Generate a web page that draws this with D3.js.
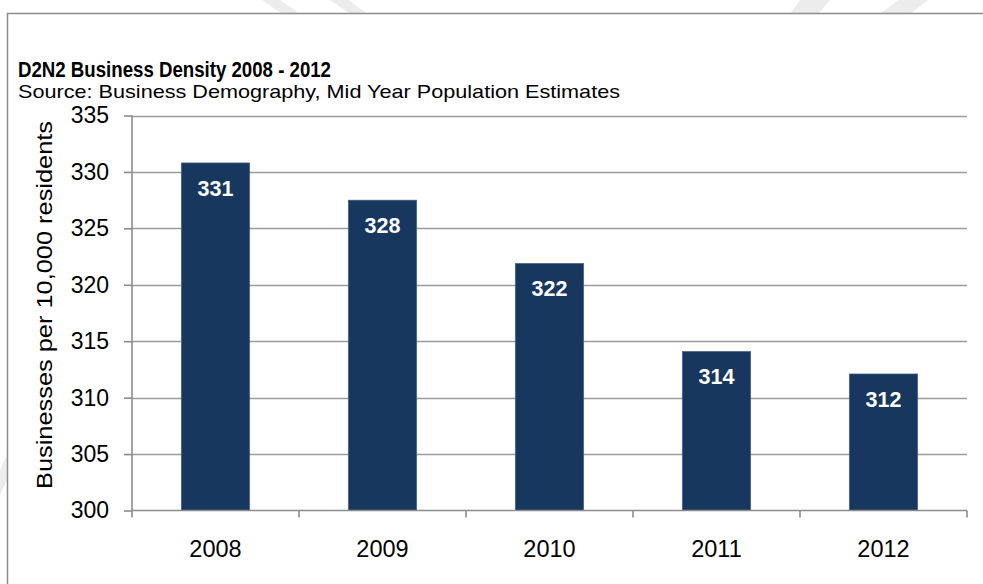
<!DOCTYPE html>
<html>
<head>
<meta charset="utf-8">
<script src="https://cdn.jsdelivr.net/npm/d3@7/dist/d3.min.js"></script>
<style>
  html, body { margin: 0; padding: 0; background: #fff; }
  svg { display: block; font-family: "Liberation Sans", Arial, sans-serif; }
</style>
</head>
<body>
<svg id="chart" width="983" height="584"></svg>
<script>
// Business density by year (businesses per 10,000 residents)
const years = ["2008", "2009", "2010", "2011", "2012"];
const density = [330.8, 327.5, 321.9, 314.1, 312.1];
const yTicks = [300, 305, 310, 315, 320, 325, 330, 335];

const titleText = "D2N2 Business Density 2008 - 2012";
const subtitleText = "Source: Business Demography, Mid Year Population Estimates";
const yAxisTitle = "Businesses per 10,000 residents";

const W = 983, H = 584;
const margin = { left: 132, right: 16, top: 115.5, bottom: 73.5 };

const svg = d3.select("#chart");

// faint page backdrop strokes peeking around the frame
const backdrop = svg.append("g").attr("fill", "#ececec");
[
  [[262, 0], [280, 0], [300, 14], [282, 14]],
  [[330, 0], [348, 0], [368, 14], [350, 14]],
  [[800, 0], [830, 0], [818, 14], [790, 14]],
  [[898, 0], [928, 0], [910, 14], [880, 14]],
  [[0, 470], [7, 455], [7, 480], [0, 495]]
].forEach(p => backdrop.append("polygon").attr("points", p.map(q => q.join(",")).join(" ")));

// outer frame of the chart area
svg.append("rect")
  .attr("x", 7.5).attr("y", 13.5)
  .attr("width", W).attr("height", H)
  .attr("fill", "#fff")
  .attr("stroke", "#8c8c8c")
  .attr("stroke-width", 1.5);

const x = d3.scaleBand()
  .domain(years)
  .range([margin.left, W - margin.right])
  .padding(0);

const y = d3.scaleLinear()
  .domain([300, 335])
  .range([H - margin.bottom, margin.top]);

const barFrac = 0.41;
const axisColor = "#8c8c8c";

// horizontal gridlines
svg.append("g")
  .selectAll("line")
  .data(yTicks.filter(t => t > 300))
  .join("line")
  .attr("x1", margin.left).attr("x2", W - margin.right)
  .attr("y1", d => Math.round(y(d)) + 0.5)
  .attr("y2", d => Math.round(y(d)) + 0.5)
  .attr("stroke", "#9b9b9b")
  .attr("stroke-width", 1.6);

// bars
svg.append("g")
  .selectAll("rect")
  .data(years.map((yr, i) => ({ yr, v: density[i] })))
  .join("rect")
  .attr("x", d => x(d.yr) + x.bandwidth() * (1 - barFrac) / 2)
  .attr("width", x.bandwidth() * barFrac)
  .attr("y", d => y(d.v))
  .attr("height", d => y(300) - y(d.v))
  .attr("fill", "#17375E")
  .attr("stroke", "#4a6a92")
  .attr("stroke-width", 0.6);

// value labels inside the bar ends
svg.append("g")
  .selectAll("text")
  .data(years.map((yr, i) => ({ yr, v: density[i] })))
  .join("text")
  .attr("x", d => x(d.yr) + x.bandwidth() / 2)
  .attr("y", d => y(d.v) + 33)
  .attr("text-anchor", "middle")
  .attr("fill", "#fff")
  .attr("font-weight", "bold")
  .attr("font-size", 21.5)
  .text(d => d3.format(".0f")(d.v));

// y axis
const yAxis = d3.axisLeft(y)
  .tickValues(yTicks)
  .tickSize(8)
  .tickPadding(15)
  .tickFormat(d3.format("d"));
const gy = svg.append("g")
  .attr("transform", `translate(${margin.left},0)`)
  .call(yAxis);
gy.select(".domain").remove();
gy.selectAll(".tick line").attr("stroke", axisColor).attr("stroke-width", 1.6);
gy.selectAll(".tick text")
  .attr("font-size", 23)
  .attr("font-family", "Liberation Sans, Arial, sans-serif")
  .attr("fill", "#000");
gy.append("line")
  .attr("x1", 0).attr("x2", 0)
  .attr("y1", y(335)).attr("y2", y(300) + 7)
  .attr("stroke", axisColor).attr("stroke-width", 1.6);

// x axis with ticks on category boundaries
const gx = svg.append("g")
  .attr("transform", `translate(0,${y(300)})`);
gx.append("line")
  .attr("x1", margin.left).attr("x2", W - margin.right)
  .attr("stroke", axisColor).attr("stroke-width", 1.6);
gx.selectAll("line.tk")
  .data(years.slice(1).concat(["end"]))
  .join("line")
  .attr("class", "tk")
  .attr("x1", d => d === "end" ? W - margin.right : x(d))
  .attr("x2", d => d === "end" ? W - margin.right : x(d))
  .attr("y1", 0).attr("y2", 7)
  .attr("stroke", axisColor).attr("stroke-width", 1.6);
gx.selectAll("text")
  .data(years)
  .join("text")
  .attr("x", d => x(d) + x.bandwidth() / 2)
  .attr("y", 46)
  .attr("text-anchor", "middle")
  .attr("font-size", 23.5)
  .attr("fill", "#000")
  .text(d => d);

// y axis title
svg.append("text")
  .attr("transform", `translate(52,${(y(300) + y(335)) / 2 - 8}) rotate(-90)`)
  .attr("text-anchor", "middle")
  .attr("font-size", 22)
  .attr("textLength", 368)
  .attr("lengthAdjust", "spacingAndGlyphs")
  .attr("fill", "#000")
  .text(yAxisTitle);

// headings
svg.append("text")
  .attr("x", 18).attr("y", 77)
  .attr("font-size", 22)
  .attr("font-weight", "bold")
  .attr("textLength", 313)
  .attr("lengthAdjust", "spacingAndGlyphs")
  .attr("fill", "#000")
  .text(titleText);
svg.append("text")
  .attr("x", 18).attr("y", 98)
  .attr("font-size", 18.5)
  .attr("textLength", 602)
  .attr("lengthAdjust", "spacingAndGlyphs")
  .attr("fill", "#000")
  .text(subtitleText);
</script>
</body>
</html>
